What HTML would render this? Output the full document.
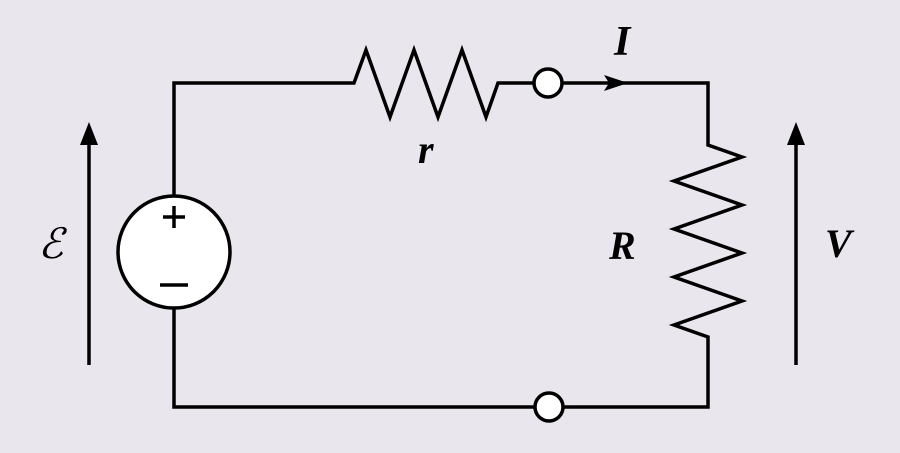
<!DOCTYPE html>
<html><head><style>html,body{margin:0;padding:0;background:#e9e7ed;}svg{display:block}
.t{font-family:"Liberation Serif","Times New Roman",serif;font-style:italic;font-weight:bold;}</style></head>
<body>
<svg width="900" height="453" viewBox="0 0 900 453" xmlns="http://www.w3.org/2000/svg">
<rect width="900" height="453" fill="#e9e7ed"/>
<g fill="none" stroke="#000" stroke-width="3.5" stroke-linejoin="miter">
<polyline points="174,196 174,83 354,83 366,50 390,117 414,50 438,117 462,50 486,117 498,83 534,83"/>
<polyline points="562,83 708,83 708,145 742,157 674,181 742,205 674,229 742,253 674,277 742,301 674,325 708,337 708,407 563,407"/>
<polyline points="535,407 174,407 174,309"/>
<line x1="89" y1="365" x2="89" y2="140"/>
<line x1="796" y1="365" x2="796" y2="140"/>
</g>
<circle cx="174" cy="252" r="56" fill="#fff" stroke="#000" stroke-width="3.5"/>
<line x1="163" y1="217" x2="185" y2="217" stroke="#000" stroke-width="3.5"/>
<line x1="174" y1="206" x2="174" y2="228" stroke="#000" stroke-width="3.5"/>
<line x1="160" y1="285" x2="188" y2="285" stroke="#000" stroke-width="3.5"/>
<circle cx="548" cy="83" r="14" fill="#fff" stroke="#000" stroke-width="3.5"/>
<circle cx="549" cy="407" r="14" fill="#fff" stroke="#000" stroke-width="3.5"/>
<polygon points="628,83 604,75 609,83 604,91" fill="#000"/>
<polygon points="89,122 80,145 98,145" fill="#000"/>
<polygon points="796,122 787,145 805,145" fill="#000"/>
<g class="t" fill="#000">
<text x="418" y="163" font-size="40">r</text>
<text x="614" y="55" font-size="42">I</text>
<text x="609" y="259" font-size="40">R</text>
<text x="825" y="257" font-size="40">V</text>
<text x="38" y="258" font-size="42" style="font-weight:normal">ℰ</text>
</g>
</svg>
</body></html>
